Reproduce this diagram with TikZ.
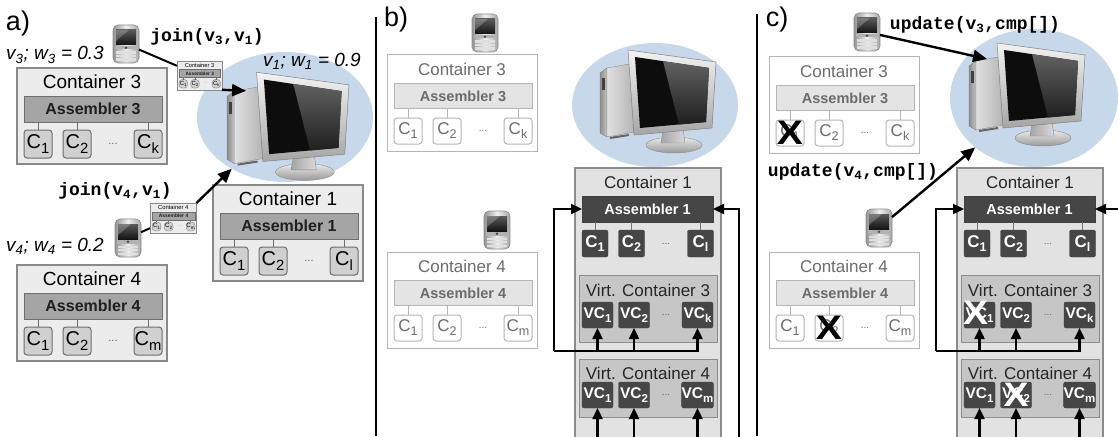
\documentclass[tikz,border=0pt]{standalone}
\usepackage{fontspec}
\usepackage{graphicx}
\setmainfont{Liberation Sans}
\newfontfamily\codefont{Liberation Mono}
\usetikzlibrary{arrows.meta,shapes.geometric}

\definecolor{haloblue}{HTML}{C8D8EB}
\definecolor{fullFill}{HTML}{ECECEC}
\definecolor{fullLine}{HTML}{8A8A8A}
\definecolor{fullAsm}{HTML}{A5A5A5}
\definecolor{fullAsmLine}{HTML}{6E6E6E}
\definecolor{fullComp}{HTML}{D0D0D0}
\definecolor{faintLine}{HTML}{B5B5B5}
\definecolor{faintAsm}{HTML}{E4E4E4}
\definecolor{faintText}{HTML}{6C6C6C}
\definecolor{hostFill}{HTML}{E2E2E2}
\definecolor{hostLine}{HTML}{8C8C8C}
\definecolor{hostDark}{HTML}{464646}
\definecolor{virtFill}{HTML}{C6C6C6}

% index set large and low, as in the component labels
\newcommand\lowsub[1]{\raisebox{-0.24em}{\scalebox{0.74}{#1}}}

\tikzset{
  every node/.style={inner sep=0pt,outer sep=0pt},
  fullframe/.style={draw=fullLine,fill=fullFill,line width=1.2pt,minimum width=150pt,minimum height=96pt},
  fulltitle/.style={font=\fontsize{19}{19}\selectfont},
  fullasm/.style={draw=fullAsmLine,fill=fullAsm,line width=1pt,minimum width=138pt,minimum height=26pt,
    font=\bfseries\fontsize{16}{16}\selectfont,text=black!88},
  fullcomp/.style={draw=fullAsmLine,fill=fullComp,line width=1pt,rounded corners=3pt,
    minimum width=28pt,minimum height=28pt,font=\fontsize{20}{20}\selectfont},
  fulldots/.style={font=\fontsize{11}{11}\selectfont,text=black!60},
  fullwire/.style={draw=fullAsmLine,line width=1pt},
  miniframe/.style={fullframe,line width=0.4pt},
  minititle/.style={fulltitle},
  miniasm/.style={fullasm,line width=0.3pt},
  minicomp/.style={fullcomp,line width=0.3pt},
  minidots/.style={fulldots},
  miniwire/.style={fullwire,line width=0.3pt},
  faintframe/.style={draw=faintLine,fill=white,line width=1pt,minimum width=150pt,minimum height=96pt},
  fainttitle/.style={font=\fontsize{17}{17}\selectfont,text=faintText},
  faintasm/.style={draw=faintLine,fill=faintAsm,line width=1pt,minimum width=138pt,minimum height=25pt,
    font=\bfseries\fontsize{14.5}{14.5}\selectfont,text=faintText},
  faintcomp/.style={draw=faintLine,fill=white,line width=1pt,rounded corners=3pt,
    minimum width=28pt,minimum height=26pt,font=\fontsize{17}{17}\selectfont,text=faintText},
  faintdots/.style={font=\fontsize{10}{10}\selectfont,text=faintText},
  faintwire/.style={draw=faintLine,line width=1pt},
  hostframe/.style={draw=hostLine,fill=hostFill,line width=1.2pt,minimum width=146pt,minimum height=300pt},
  hosttitle/.style={font=\fontsize{17}{17}\selectfont,text=black!85},
  hostasm/.style={draw=black!75,fill=hostDark,minimum width=131pt,minimum height=26pt,
    font=\bfseries\fontsize{14.5}{14.5}\selectfont,text=white},
  hostcomp/.style={draw=black!75,fill=hostDark,rounded corners=2pt,minimum width=26pt,minimum height=27pt,
    font=\bfseries\fontsize{17}{17}\selectfont,text=white},
  hostdots/.style={font=\fontsize{10}{10}\selectfont,text=black!60},
  hostwire/.style={draw=black!55,line width=1pt},
  virtframe/.style={draw=hostLine,fill=virtFill,line width=1pt,minimum width=138pt},
  vcbox/.style={draw=black!75,fill=hostDark,rounded corners=2pt,minimum width=31pt,minimum height=26pt,
    font=\bfseries\fontsize{15.5}{15.5}\selectfont,text=white},
  halo/.style={ellipse,fill=haloblue},
  link/.style={line width=2pt},
  bigarr/.style={line width=2.4pt,-{Triangle[length=14pt,width=12pt]}},
  arr/.style={line width=2.3pt,-{Triangle[length=11pt,width=10pt]}},
  codelbl/.style={font=\codefont\bfseries\fontsize{18}{18}\selectfont},
  wlbl/.style={font=\itshape\fontsize{19}{19}\selectfont},
  panellbl/.style={font=\fontsize{27}{27}\selectfont},
  xmark/.style={font=\bfseries\fontsize{34}{34}\selectfont},
  phonebody/.style={draw=black!45,line width=0.6pt,rounded corners=5pt,minimum width=26pt,minimum height=38pt,
    left color=black!42,right color=black!35,middle color=black!6},
  divider/.style={line width=2.2pt}
}

% container with assembler and three components
% #1 name, #2 top-left corner, #3 theme, #4 number, #5 last index, #6 scale
\newcommand\ctnr[6]{%
\begin{scope}[shift={(#2)},scale=#6,transform shape]
  \node[#3frame,anchor=north west] (#1) at (0,0) {};
  \node[#3title] (#1-t) at (75,14) {Container #4};
  \node[#3asm] (#1-a) at (76,41) {Assembler #4};
  \node[#3comp] (#1-c1) at (21,76) {C\lowsub{1}};
  \node[#3comp] (#1-c2) at (60,76) {C\lowsub{2}};
  \node[#3comp] (#1-cn) at (131,76) {C\lowsub{#5}};
  \node[#3dots] (#1-d) at (96,76) {...};
  \foreach \cc in {c1,c2,cn}{\draw[#3wire] (#1-\cc.north) -- (#1-\cc.north |- #1-a.south);}
\end{scope}}

% host container holding the virtual containers, with the update paths
% #1 name, #2 top-left corner
\newcommand\host[2]{%
\begin{scope}[shift={(#2)}]
  \node[hostframe,anchor=north west] (#1) at (0,0) {};
  \node[hosttitle] (#1-t) at (73,14) {Container 1};
  \node[hostasm] (#1-a) at (72.5,41) {Assembler 1};
  \node[hostcomp] (#1-c1) at (20,75.5) {C\lowsub{1}};
  \node[hostcomp] (#1-c2) at (56.5,75.5) {C\lowsub{2}};
  \node[hostcomp] (#1-cn) at (125.5,75.5) {C\lowsub{l}};
  \node[hostdots] (#1-d) at (91,75.5) {...};
  \foreach \cc in {c1,c2,cn}{\draw[hostwire] (#1-\cc.north) -- (#1-\cc.north |- #1-a.south);}
  \node[virtframe,minimum height=67pt] (#1-v3) at (73,140.5) {};
  \node[hosttitle] (#1-v3t) at (73,122) {Virt. Container 3};
  \node[vcbox] (#1-v31) at (22.5,147) {VC\lowsub{1}};
  \node[vcbox] (#1-v32) at (59,147) {VC\lowsub{2}};
  \node[vcbox] (#1-v3n) at (122.5,147) {VC\lowsub{k}};
  \node[hostdots] (#1-v3d) at (91,147) {...};
  \node[virtframe,minimum height=58pt] (#1-v4) at (73,220) {};
  \node[hosttitle] (#1-v4t) at (73,205) {Virt. Container 4};
  \node[vcbox] (#1-v41) at (22.5,227) {VC\lowsub{1}};
  \node[vcbox] (#1-v42) at (59,227) {VC\lowsub{2}};
  \node[vcbox] (#1-v4n) at (122.5,227) {VC\lowsub{m}};
  \node[hostdots] (#1-v4d) at (91,227) {...};
  \coordinate (#1-jl) at (-21,183);
  \coordinate (#1-bl) at (0,280);
  \coordinate (#1-jr) at (164,280);
  \draw[arr] (#1-jl) |- (#1-a.west);
  \draw[arr] (#1-jl) -| (#1-v3n.south);
  \draw[arr] (#1-v31.south |- #1-jl) -- (#1-v31.south);
  \draw[arr] (#1-v32.south |- #1-jl) -- (#1-v32.south);
  \foreach \vv in {v41,v42,v4n}{\draw[arr] (#1-\vv.south |- #1-bl) -- (#1-\vv.south);}
  \draw[arr] (#1-jr) |- (#1-a.east);
\end{scope}}

% desktop computer: tower, monitor and stand
% #1 name, #2 reference point, #3 scale
\newcommand\computer[3]{%
\begin{scope}[shift={(#2)},scale=#3]
  \shade[left color=black!45,right color=black!22,draw=black!50,line width=0.4pt]
    (-57,-32) -- (-50,-37) -- (-50,32) -- (-57,28) -- cycle;
  \shade[left color=black!12,right color=black!30,draw=black!45,line width=0.4pt]
    (-50,-37) -- (-22,-42) -- (-22,27) -- (-50,32) -- cycle;
  \fill[black!75] (-55,-27) rectangle (-52,-15);
  \draw[black!60,line width=2pt] (-47,33) -- (-28,30);
  \node[minimum width=35pt,minimum height=70pt] (#1-tw) at (-39,-4) {};
  \shade[top color=black!8,bottom color=black!40,draw=black!45,line width=0.4pt]
    (17,40) ellipse [x radius=28,y radius=8];
  \shade[left color=black!35,right color=black!15,draw=black!45,line width=0.4pt]
    (6,26) -- (26,24) -- (28,38) -- (4,38) -- cycle;
  \shade[top color=black!5,bottom color=black!35,draw=black!50,line width=0.5pt]
    (-29,-55) -- (59,-43) -- (55,23) -- (-23,30) -- cycle;
  \fill[black!95] (-22,-48) -- (52,-37) -- (49,17) -- (-17,23) -- cycle;
  \shade[top color=black!62,bottom color=black!88]
    (6,-43.8) -- (52,-37) -- (49,17) -- (22,19.5) -- cycle;
  \node[minimum width=88pt,minimum height=85pt] (#1-mon) at (15,-13) {};
\end{scope}}

% handheld device
% #1 name, #2 centre
\newcommand\phone[2]{%
\node[phonebody] (#1) at (#2) {};
\begin{scope}[shift={(#1.center)}]
  \shade[top color=black!65,bottom color=black!92] (-10,-14) rectangle (10,1);
  \fill[white,opacity=0.22] (-10,-14) -- (3,-14) -- (-10,-3) -- cycle;
  \fill[black!30] (-11,2) rectangle (11,5.5);
  \fill[black!70] (0,3.7) circle (1.4);
  \foreach \r in {7.5,11,14.5}{\foreach \k in {-8,-4,0,4,8}{%
    \fill[black!12] (\k-1.6,\r) rectangle (\k+1.6,\r+2.3);}}
\end{scope}}

\begin{document}
\begin{tikzpicture}[x=1pt,y=-1pt]
\useasboundingbox (0,0) rectangle (1118,436);
\clip (0,0) rectangle (1118,436);
\fill[white] (0,0) rectangle (1118,436);

% ---------- a) joining ----------
\node[halo,minimum width=176pt,minimum height=130pt] (ella) at (285,117) {};
\computer{ca}{287,130}{1.05}
\ctnr{a3}{17,68}{full}{3}{k}{1}
\ctnr{a4}{17,265}{full}{4}{m}{1}
\ctnr{a1}{213,185}{full}{1}{l}{1}
\phone{pa3}{126,44}
\phone{pa4}{128,238}
\ctnr{th3}{177,61}{mini}{3}{k}{0.3}
\ctnr{th4}{150,203}{mini}{4}{m}{0.31}
\draw[link] (pa3) -- (th3);
\draw[bigarr] (th3.south east) -- (ca-tw.north);
\draw[link] (pa4) -- (th4);
\draw[bigarr] (th4.north east) -- (ella);
\node[panellbl] (la) at (18,24) {a)};
\node[codelbl] (ja) at (207,37) {join(v\textsubscript{3},v\textsubscript{1})};
\node[codelbl] (jb) at (115,191) {join(v\textsubscript{4},v\textsubscript{1})};
\node[wlbl] (w3) at (55,55) {v\textsubscript{3}; w\textsubscript{3} = 0.3};
\node[wlbl] (w4) at (55,246) {v\textsubscript{4}; w\textsubscript{4} = 0.2};
\node[wlbl] (w1) at (312,61) {v\textsubscript{1}; w\textsubscript{1} = 0.9};

\draw[divider] (376,17) -- (376,436);

% ---------- b) virtual containers ----------
\node[halo,minimum width=166pt,minimum height=124pt] (ellb) at (655,105) {};
\computer{cb}{657,105}{1}
\ctnr{b3}{387,55}{faint}{3}{k}{1}
\ctnr{b4}{387,252}{faint}{4}{m}{1}
\host{b1}{575,168}
\phone{pb3}{485,33}
\phone{pb4}{497,230}
\node[panellbl] (lb) at (396,20) {b)};

\draw[divider] (757,14) -- (757,436);

% ---------- c) component updates ----------
\node[halo,minimum width=168pt,minimum height=138pt] (ellc) at (1034,98) {};
\computer{cc}{1026,98}{1}
\ctnr{c3}{769,57}{faint}{3}{k}{1}
\ctnr{c4}{769,252}{faint}{4}{m}{1}
\host{c1}{957,168}
\phone{pc3}{867,32}
\phone{pc4}{879,228}
\draw[bigarr] (pc3) -- (cc-tw.north);
\draw[bigarr] (pc4) -- (ellc);
\node[xmark] (xa) at (c3-c1) {\scalebox{1.15}[1]{X}};
\node[xmark] (xb) at (c4-c2) {\scalebox{1.15}[1]{X}};
\node[xmark,text=white,xshift=-4pt,yshift=2pt] (xc) at (c1-v31) {\scalebox{1.1}[1]{X}};
\node[xmark,text=white] (xd) at (c1-v42) {\scalebox{1.1}[1]{X}};
\node[panellbl] (lc) at (777,20) {c)};
\node[codelbl] (ua) at (975,25) {update(v\textsubscript{3},cmp[])};
\node[codelbl] (ub) at (853,172) {update(v\textsubscript{4},cmp[])};
\end{tikzpicture}
\end{document}
